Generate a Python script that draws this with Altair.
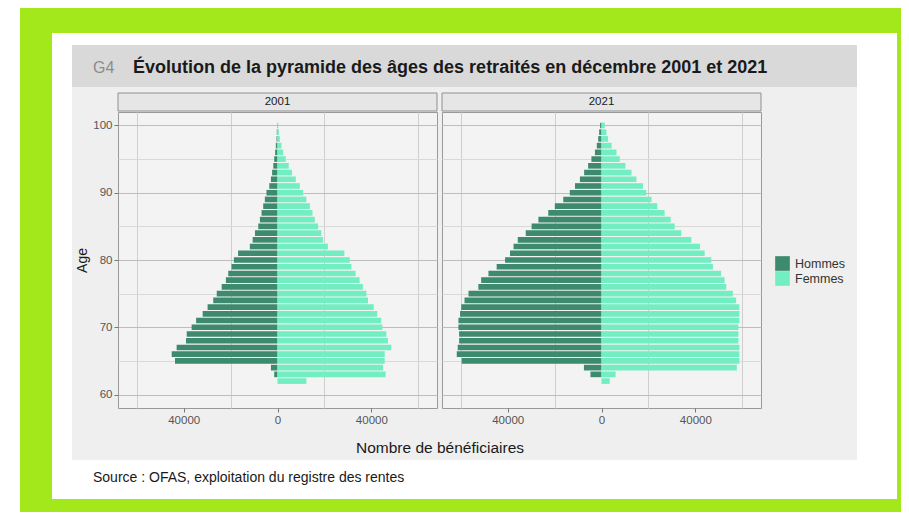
import altair as alt
import pandas as pd

FONT = "Liberation Sans"

ages = list(range(62, 101))
men_2001 = [0, 1400, 2800, 43700, 45100, 43000, 39000, 38700, 36600, 34700,
            31900, 29800, 27400, 25900, 23800, 22000, 21000, 19600, 18600, 16800,
            11800, 10600, 9600, 8200, 7500, 6800, 6100, 5400, 4700, 3500,
            2800, 2300, 1800, 1400, 1000, 700, 400, 300, 150]
women_2001 = [12300, 46100, 45000, 45700, 45700, 48500, 47100, 46400, 44700, 44200,
              42500, 41000, 38600, 37900, 36400, 35000, 33300, 31500, 30800, 28500,
              21500, 19400, 18700, 17300, 15900, 14900, 13800, 12300, 10900, 9500,
              7800, 6200, 4800, 3500, 2400, 1700, 1000, 600, 300]
men_2021 = [0, 4700, 7500, 59600, 61700, 61300, 60700, 60700, 61000, 61000,
            60300, 59800, 58400, 56700, 52500, 51300, 48200, 44700, 41100, 39000,
            37500, 35700, 32300, 29800, 26900, 22700, 19900, 16300, 13500, 11300,
            9200, 7400, 5700, 4300, 2800, 2000, 1400, 1000, 600]
women_2021 = [3500, 6000, 57700, 58800, 58800, 58800, 58400, 58400, 58400, 58800,
              58800, 58800, 57400, 56000, 53200, 52500, 51000, 47500, 46800, 44000,
              42000, 38300, 34000, 31200, 29500, 26900, 23800, 21300, 19100, 17700,
              14900, 12800, 10200, 7800, 6400, 4300, 2800, 2100, 1400]
years = ["2001", "2021"]
sexes = ["Hommes", "Femmes"]
colors = ["#3d8a6f", "#72eec2"]
x_ticks = [-60000, -40000, -20000, 0, 20000, 40000, 60000]
y_ticks = [60, 65, 70, 75, 80, 85, 90, 95, 100]

title_code = "G4"
title_text = "Évolution de la pyramide des âges des retraités en décembre 2001 et 2021"
x_title = "Nombre de bénéficiaires"
y_title = "Age"
source_text = "Source : OFAS, exploitation du registre des rentes"

rows = []
for year, men, women in [("2001", men_2001, women_2001), ("2021", men_2021, women_2021)]:
    for a, m, w in zip(ages, men, women):
        rows.append({"annee": year, "age": a, "sexe": "Hommes", "n": -m})
        rows.append({"annee": year, "age": a, "sexe": "Femmes", "n": w})
df = pd.DataFrame(rows)
one = pd.DataFrame({"k": [0]})

W, H = 319, 296
color_scale = alt.Scale(domain=sexes, range=colors)


def xaxis():
    return alt.Axis(
        values=x_ticks,
        labelExpr="abs(datum.value) % 40000 == 0 ? format(abs(datum.value), 'd') : ''",
        labelOverlap=False,
        labelFontSize=11.5, labelColor="#555555", labelFont=FONT, labelPadding=2,
        tickSize=4, tickColor="#777777",
        tickOpacity={"condition": {"test": "abs(datum.value) % 40000 == 0", "value": 1}, "value": 0},
        grid=True, gridColor="#cfcfcf", gridWidth=1,
        gridOpacity={"condition": {"test": "abs(datum.value) % 40000 == 20000", "value": 1}, "value": 0},
        domain=False, title=None,
    )


def yaxis(show):
    common = dict(
        values=y_ticks, grid=True, domain=False,
        gridColor={"condition": {"test": "datum.value % 10 == 0", "value": "#bdbdbd"}, "value": "#d9d9d9"},
        gridWidth=1,
    )
    if show:
        return alt.Axis(
            labelExpr="datum.value % 10 == 0 ? datum.label : ''",
            labelFontSize=11.5, labelColor="#555555", labelFont=FONT, labelPadding=2,
            tickSize=4, tickColor="#777777",
            tickOpacity={"condition": {"test": "datum.value % 10 == 0", "value": 1}, "value": 0},
            title=y_title, titleFont=FONT, titleFontSize=14, titleFontWeight="normal",
            titleColor="#1a1a1a", titlePadding=3,
            **common,
        )
    return alt.Axis(labels=False, ticks=False, title=None, **common)


def panel(year, show_y):
    bars = alt.Chart(df).transform_filter(
        alt.datum.annee == year
    ).transform_calculate(
        lo="datum.age - 0.42", hi="datum.age + 0.42", zero="0"
    ).mark_rect().encode(
        x=alt.X("n:Q", scale=alt.Scale(domain=[-68000, 68000], nice=False), axis=xaxis()),
        x2="zero:Q",
        y=alt.Y("lo:Q", scale=alt.Scale(domain=[58, 102], nice=False, zero=False), axis=yaxis(show_y)),
        y2="hi:Q",
        color=alt.Color("sexe:N", scale=color_scale, sort=sexes,
                        legend=alt.Legend(orient="none", legendX=663, legendY=144, title=None,
                                          symbolType="square", symbolSize=215, symbolStrokeWidth=0,
                                          symbolOpacity=1, labelFontSize=12.5, labelFont=FONT,
                                          labelColor="#333333", rowPadding=0, labelOffset=5)),
    )
    strip = alt.Chart(one).mark_rect(fill="#e6e6e6", stroke="#8f8f8f", strokeWidth=1, clip=False).encode(
        x=alt.value(0), x2=alt.value(W), y=alt.value(-19), y2=alt.value(-1)
    )
    strip_txt = alt.Chart(one).mark_text(fontSize=11.5, font=FONT, color="#1a1a1a", baseline="middle").encode(
        x=alt.value(W / 2), y=alt.value(-10), text=alt.value(year)
    )
    return alt.layer(bars, strip, strip_txt).properties(
        width=W, height=H,
        view=alt.ViewBackground(fill="#f3f3f3", stroke="#999999", strokeWidth=1),
    )


def rect(x1, x2, y1, y2, fill):
    return alt.Chart(one).mark_rect(fill=fill, clip=False).encode(
        x=alt.value(x1), x2=alt.value(x2), y=alt.value(y1), y2=alt.value(y2)
    )


def txt(s, x, y, **kw):
    return alt.Chart(one).mark_text(font=FONT, baseline="middle", **kw).encode(
        x=alt.value(x), y=alt.value(y), text=alt.value(s)
    )


# background / frame view, origin at page (112, 112); canvas = page 8..901 x 8..512
bg = alt.layer(
    rect(-104, 789, -104, 400, "#ffffff"),
    rect(-92, 789, -104, 400, "#a3e81a"),
    rect(-60, 785, -79, 387, "#ffffff"),
    rect(-40, 745, -25, 348, "#efefef"),
    rect(-40, 745, -67, -25, "#d9d9d9"),
    txt(title_code, -19, -44, fontSize=16, color="#8c8c8c", align="left"),
    txt(title_text, 21, -44, fontSize=18, fontWeight="bold", color="#1a1a1a", align="left"),
    txt(x_title, 328, 336, fontSize=15.5, color="#1a1a1a", align="center"),
    txt(source_text, -19, 366, fontSize=14, color="#1a1a1a", align="left"),
).properties(width=1, height=1, view=alt.ViewBackground(strokeOpacity=0, fillOpacity=0))

chart = alt.hconcat(
    bg, panel("2001", True), panel("2021", False), spacing=5, bounds="flush"
).properties(padding=0, background="#ffffff")

chart.save("out.html", embed_options={"renderer": "svg", "actions": False})
